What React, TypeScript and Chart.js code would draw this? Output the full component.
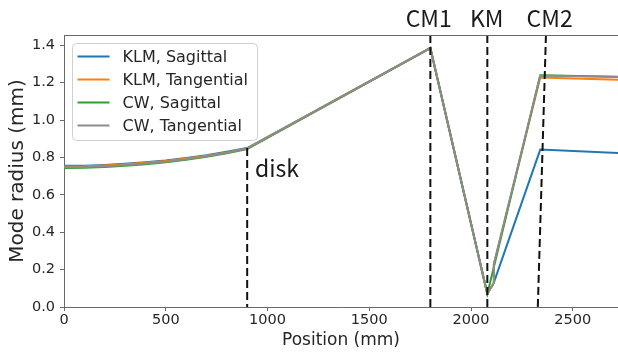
import React, { useEffect, useRef } from "react";
import { Chart, registerables } from "chart.js";

Chart.register(...registerables);

// ---- data ----
const positions = [0, 100, 200, 300, 400, 500, 600, 700, 800, 900, 1800, 2080, 2112, 2112, 2340, 2722];
const klmSagittal = [0.755, 0.756, 0.76, 0.766, 0.774, 0.784, 0.797, 0.812, 0.83, 0.85, 1.385, 0.07, 0.13, 0.13, 0.842, 0.824];
const klmTangential = [0.752, 0.753, 0.757, 0.763, 0.771, 0.781, 0.794, 0.809, 0.827, 0.848, 1.385, 0.07, 0.13, 0.23, 1.228, 1.215];
const cwSagittal = [0.744, 0.745, 0.749, 0.755, 0.763, 0.774, 0.787, 0.803, 0.822, 0.845, 1.385, 0.07, 0.214, 0.214, 1.24, 1.232];
const cwTangential = [0.748, 0.749, 0.753, 0.759, 0.767, 0.777, 0.79, 0.806, 0.825, 0.847, 1.385, 0.07, 0.13, 0.23, 1.238, 1.23];

const seriesLabels = ["KLM, Sagittal", "KLM, Tangential", "CW, Sagittal", "CW, Tangential"];
const seriesColors = ["#1f77b4", "#ff7f0e", "#2ca02c", "#8c8c8c"];

const markerNames = ["disk", "CM1", "KM", "CM2"];
const markerTopX = [900, 1800, 2080, 2368];
const markerBottomX = [900, 1800, 2080, 2328];
const markerTopY = [0.85, 1.455, 1.455, 1.455];
const markerLabelX = [938, 1792, 2077, 2386];
const diskLabelY = 0.695;

const xTicks = [0, 500, 1000, 1500, 2000, 2500];
const yTicks = [0, 0.2, 0.4, 0.6, 0.8, 1.0, 1.2, 1.4];
const X_MAX = 2722;
const Y_MAX = 1.455;

const SPINE = "#6a6a6a";
const TEXT = "#262626";
const FONT = "'DejaVu Sans', sans-serif";
const ANNOT_FONT = "'Noto Sans CJK JP', 'DejaVu Sans', sans-serif";

const overlayPlugin = {
  id: "overlay",
  afterDraw(chart: any) {
    const { ctx, chartArea, scales } = chart;
    const xs = scales.x;
    const ys = scales.y;
    ctx.save();
    // top spine
    ctx.strokeStyle = SPINE;
    ctx.lineWidth = 1;
    ctx.beginPath();
    ctx.moveTo(chartArea.left, chartArea.top + 0.5);
    ctx.lineTo(chartArea.right, chartArea.top + 0.5);
    ctx.stroke();

    // annotations
    ctx.fillStyle = "#1a1a1a";
    ctx.font = `23px ${ANNOT_FONT}`;
    ctx.textBaseline = "alphabetic";
    markerNames.forEach((name, i) => {
      const px = xs.getPixelForValue(markerLabelX[i]);
      if (name === "disk") {
        ctx.textAlign = "left";
        ctx.fillText(name, px, ys.getPixelForValue(diskLabelY));
      } else {
        ctx.textAlign = "center";
        ctx.fillText(name, px, chartArea.top - 8);
      }
    });

    // legend
    const lx = chartArea.left + 8.5;
    const ly = chartArea.top + 8.5;
    const lw = 185;
    const lh = 97;
    const r = 4;
    ctx.beginPath();
    ctx.moveTo(lx + r, ly);
    ctx.lineTo(lx + lw - r, ly);
    ctx.quadraticCurveTo(lx + lw, ly, lx + lw, ly + r);
    ctx.lineTo(lx + lw, ly + lh - r);
    ctx.quadraticCurveTo(lx + lw, ly + lh, lx + lw - r, ly + lh);
    ctx.lineTo(lx + r, ly + lh);
    ctx.quadraticCurveTo(lx, ly + lh, lx, ly + lh - r);
    ctx.lineTo(lx, ly + r);
    ctx.quadraticCurveTo(lx, ly, lx + r, ly);
    ctx.closePath();
    ctx.fillStyle = "rgba(255,255,255,0.85)";
    ctx.fill();
    ctx.strokeStyle = "#d0d0d0";
    ctx.lineWidth = 1;
    ctx.stroke();

    ctx.font = `16px ${FONT}`;
    ctx.textAlign = "left";
    ctx.textBaseline = "middle";
    seriesLabels.forEach((lab, i) => {
      const cy = ly + 13 + i * 23;
      ctx.strokeStyle = seriesColors[i];
      ctx.lineWidth = 2;
      ctx.beginPath();
      ctx.moveTo(lx + 5, cy);
      ctx.lineTo(lx + 37, cy);
      ctx.stroke();
      ctx.fillStyle = TEXT;
      ctx.fillText(lab, lx + 50, cy + 1);
    });
    ctx.restore();
  },
};

export default function App() {
  const ref = useRef<HTMLCanvasElement | null>(null);

  useEffect(() => {
    if (!ref.current) return;
    const series = [klmSagittal, klmTangential, cwSagittal, cwTangential];
    const dataSets: any[] = series.map((vals, i) => ({
      label: seriesLabels[i],
      data: positions.map((x, j) => ({ x, y: vals[j] })),
      borderColor: seriesColors[i],
      backgroundColor: seriesColors[i],
      borderWidth: 2,
      pointRadius: 0,
      tension: 0,
      order: 4 - i,
    }));
    markerNames.forEach((name, i) => {
      dataSets.push({
        label: name,
        data: [
          { x: markerTopX[i], y: markerTopY[i] },
          { x: markerBottomX[i], y: 0 },
        ],
        borderColor: "#111111",
        borderWidth: 2,
        borderDash: [8, 4],
        pointRadius: 0,
        tension: 0,
        order: 0,
      });
    });

    const chart = new Chart(ref.current, {
      type: "line",
      data: { datasets: dataSets },
      options: {
        responsive: false,
        maintainAspectRatio: false,
        devicePixelRatio: 1,
        animation: false,
        layout: { padding: { top: 35, right: 0, left: 0, bottom: 0 } },
        plugins: { legend: { display: false }, tooltip: { enabled: false } },
        scales: {
          x: {
            type: "linear",
            min: 0,
            max: X_MAX,
            afterFit: (s: any) => {
              s.height = 47;
            },
            afterBuildTicks: (s: any) => {
              s.ticks = xTicks.map((v) => ({ value: v }));
            },
            grid: { display: true, drawOnChartArea: false, drawTicks: true, tickLength: 4, color: SPINE },
            border: { display: true, color: SPINE, width: 1 },
            ticks: {
              color: TEXT,
              font: { family: FONT, size: 14.5 },
              padding: 1,
              maxRotation: 0,
              autoSkip: false,
              callback: (v: any) => String(v),
            },
            title: {
              display: true,
              text: "Position (mm)",
              color: TEXT,
              font: { family: FONT, size: 17 },
              padding: { top: 0, bottom: 3 },
            },
          },
          y: {
            type: "linear",
            min: 0,
            max: Y_MAX,
            afterFit: (s: any) => {
              s.width = 64;
            },
            afterBuildTicks: (s: any) => {
              s.ticks = yTicks.map((v) => ({ value: v }));
            },
            grid: { display: true, drawOnChartArea: false, drawTicks: true, tickLength: 4, color: SPINE },
            border: { display: true, color: SPINE, width: 1 },
            ticks: {
              color: TEXT,
              font: { family: FONT, size: 14.5 },
              padding: 5,
              autoSkip: false,
              callback: (v: any) => Number(v).toFixed(1),
            },
            title: {
              display: true,
              text: "Mode radius (mm)",
              color: TEXT,
              font: { family: FONT, size: 20 },
              padding: { top: 5.5, bottom: 0 },
            },
          },
        },
      },
      plugins: [overlayPlugin],
    });
    return () => chart.destroy();
  }, []);

  return (
    <div style={{ position: "fixed", left: 0, top: 0, width: 618, height: 354, background: "#fff" }}>
      <canvas ref={ref} width={618} height={354} style={{ display: "block", width: 618, height: 354 }} />
    </div>
  );
}
